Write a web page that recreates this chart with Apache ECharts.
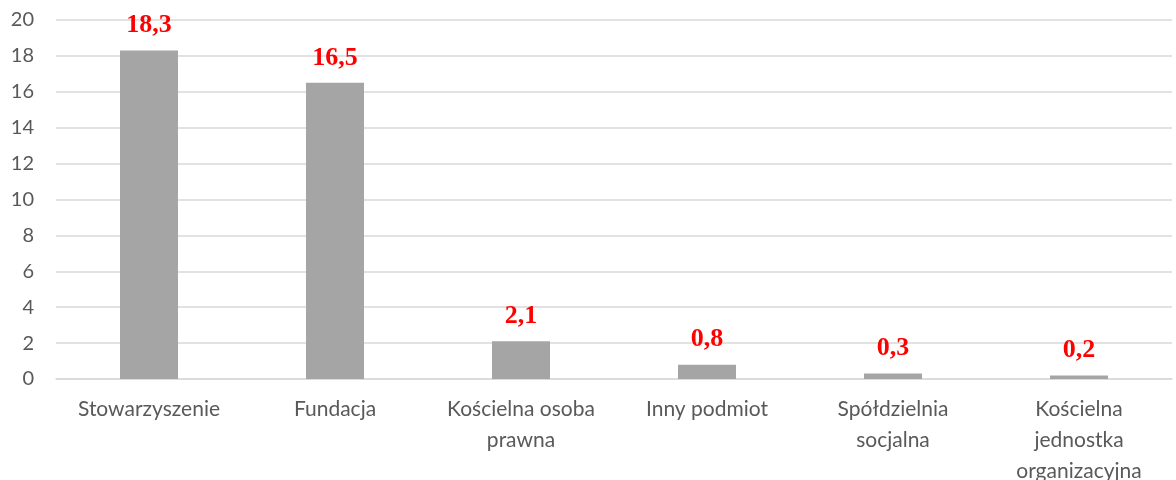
<!DOCTYPE html>
<html><head><meta charset="utf-8">
<script src="https://cdn.jsdelivr.net/npm/echarts@6/dist/echarts.min.js"></script>
<style>html,body{margin:0;padding:0;background:#fff;overflow:hidden}#c{width:1176px;height:480px}</style>
</head><body><div id="c"></div>
<script>
const categories = ["Stowarzyszenie","Fundacja","Kościelna osoba\nprawna","Inny podmiot","Spółdzielnia\nsocjalna","Kościelna\njednostka\norganizacyjna"];
const values = [18.3,16.5,2.1,0.8,0.3,0.2];
const yTicks = {min:0,max:20,interval:2};
const chart = echarts.init(document.getElementById('c'), null, {width:1176,height:480});
chart.setOption({
  animation:false,
  grid:{left:56,right:4,top:20,bottom:101,containLabel:false,outerBoundsMode:'none'},
  xAxis:{type:'category',data:categories,
    axisLine:{lineStyle:{color:'#d9d9d9',width:1.5}},axisTick:{show:false},
    axisLabel:{color:'#595959',fontSize:21,fontFamily:'Lato',lineHeight:31,margin:15,interval:0}},
  yAxis:{type:'value',min:yTicks.min,max:yTicks.max,interval:yTicks.interval,
    axisLine:{show:false},axisTick:{show:false},
    splitLine:{lineStyle:{color:'#d9d9d9',width:1.5}},
    axisLabel:{color:'#595959',fontSize:20,fontFamily:'Lato',margin:22}},
  series:[{type:'bar',data:values,barWidth:58,itemStyle:{color:'#a5a5a5'},
    label:{show:true,position:'top',distance:12,color:'#ff0000',fontWeight:'bold',fontSize:26,
      fontFamily:'Liberation Serif',formatter:p=>p.value.toFixed(1).replace('.',',')}}]
});
</script></body></html>
